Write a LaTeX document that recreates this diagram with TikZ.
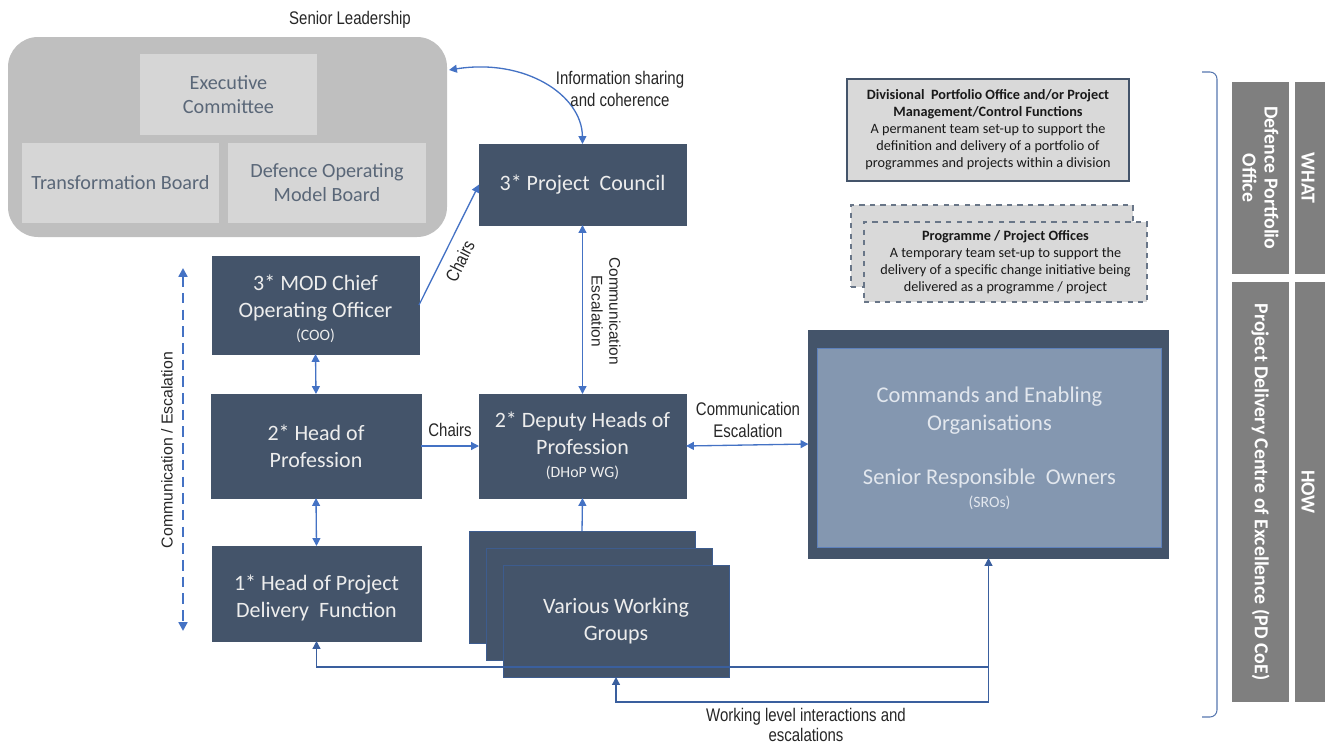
\documentclass[tikz,border=0pt]{standalone}
\usepackage{fontspec}
\setmainfont{Carlito}
\newfontfamily\narrowfont[FakeStretch=0.82]{Liberation Sans}
\newfontfamily\arialfont{Liberation Sans}
\usetikzlibrary{arrows.meta}
\definecolor{dk}{HTML}{44546A}
\definecolor{bl}{HTML}{4472C4}
\definecolor{bldk}{HTML}{3A5F9E}
\definecolor{lgray}{HTML}{BFBFBF}
\definecolor{mgray}{HTML}{D6D6D6}
\definecolor{pgray}{HTML}{D9D9D9}
\definecolor{slatetxt}{HTML}{5A6778}
\definecolor{colgray}{HTML}{7F7F7F}
\definecolor{cmdin}{HTML}{8497B0}
\definecolor{cmdtxt}{HTML}{E2E7EE}
\definecolor{boxtxt}{HTML}{EDEDED}
\begin{document}
\begin{tikzpicture}[x=0.02cm,y=-0.02cm,
  wh/.style 2 args={minimum width=#1*0.02cm, minimum height=#2*0.02cm, inner sep=0pt, outer sep=0pt},
  dkbox/.style={fill=dk, draw=dk, text=boxtxt, align=center, font=\fontsize{12.5}{15.5}\selectfont},
  grbox/.style={fill=mgray, draw=none, text=slatetxt, align=center, font=\fontsize{11.5}{13.6}\selectfont},
  infobox/.style={fill=pgray, draw=dk, line width=0.6pt, align=center, text=black!90, font=\fontsize{8.1}{9.7}\selectfont},
  progbox/.style={fill=pgray, draw=dk!80, dashed, line width=0.6pt, align=center, text=black!90, font=\fontsize{8.1}{9.7}\selectfont},
  colbox/.style={fill=colgray, draw=none, text=white, align=center, font=\bfseries\fontsize{11.3}{12.5}\selectfont},
  lbl/.style={font=\narrowfont\fontsize{10.4}{12.2}\selectfont, text=black!85, align=center, inner sep=1pt},
  albl/.style={font=\arialfont\fontsize{8.8}{10.2}\selectfont, text=black!85, align=center, inner sep=1pt},
  arr/.style={draw=bl, line width=0.75pt, {Triangle[length=4.5pt,width=4.5pt]}-{Triangle[length=4.5pt,width=4.5pt]}},
  arrto/.style={draw=bl, line width=0.75pt, -{Triangle[length=4.5pt,width=4.5pt]}},
  arrdk/.style={draw=bldk, line width=0.75pt, -{Triangle[length=4.5pt,width=4.5pt]}},
  dasharr/.style={draw=bl, line width=1.5pt, dash pattern=on 6pt off 3.5pt, {Triangle[length=5pt,width=5pt]}-{Triangle[length=5pt,width=5pt]}}
]
\useasboundingbox (0,0) rectangle (1325,744);

% Senior leadership group
\node[lbl] (sltitle) at (350,20) {Senior Leadership};
\node[wh={439}{200}, fill=lgray, rounded corners=0.6cm] (slbox) at (227.5,137) {};
\node[grbox, wh={177}{81}] (exec) at (228.5,94.5) {Executive\\Committee};
\node[grbox, wh={197}{80}] (tb) at (120.5,183) {Transformation Board};
\node[grbox, wh={198}{80}] (dom) at (327,183) {Defence Operating\\Model Board};

% Dark boxes
\node[dkbox, wh={207}{81}] (pc) at (582.5,184.5) {3* Project\ \ Council};
\node[dkbox, wh={207}{98}] (coo) at (315.5,305) {\rule{0pt}{13pt}3* MOD Chief\\Operating Officer\\[-2.5pt]{\fontsize{9}{10}\selectfont (COO)}};
\node[dkbox, wh={210}{104}] (hop) at (316,446) {2* Head of\\Profession};
\node[dkbox, wh={207}{104}] (dhop) at (582.5,446) {2* Deputy Heads of\\Profession\\[-2.5pt]{\fontsize{9}{10}\selectfont (DHoP WG)}};
\node[dkbox, wh={209}{95}] (hpd) at (316.5,593.5) {\rule{0pt}{14pt}1* Head of Project\\Delivery\ \ Function};
\node[dkbox, wh={226}{112}, draw=bldk!70!dk] (wga) at (582,587) {};
\node[dkbox, wh={226}{112}, draw=bldk!70!dk] (wgb) at (599,604) {};
\node[dkbox, wh={226}{112}, draw=bldk!70!dk] (wgc) at (616,621) {Various Working\\Groups};

% Commands box
\node[wh={360}{228}, fill=dk, draw=dk] (cmd) at (988.5,444) {};
\node[wh={344}{199}, fill=cmdin, draw=bl!60!cmdin, text=cmdtxt, align=center, font=\fontsize{12.8}{15.9}\selectfont] (cmdin) at (989.5,448) {Commands and Enabling\\Organisations\\[15pt]Senior Responsible\ \ Owners\\[-3pt]{\fontsize{9}{10}\selectfont (SROs)}};

% Right info boxes
\node[infobox, wh={282}{102}] (div) at (988,130) {{\bfseries Divisional\ \ Portfolio Office and/or Project}\\{\bfseries Management/Control Functions}\\A permanent team set-up to support the\\definition and delivery of a portfolio of\\programmes and projects within a division};
\node[progbox, wh={282}{82}] (proga) at (992,246) {};
\node[progbox, wh={283}{80}] (progb) at (1005.5,262) {{\bfseries Programme / Project Offices}\\A temporary team set-up to support the\\delivery of a specific change initiative being\\delivered as a programme / project};

% Right columns
\node[colbox, wh={57}{192}] (dpo) at (1260.5,178) {};
\node[colbox, rotate=-90] (dpot) at (dpo.center) {Defence Portfolio\\Office};
\node[colbox, wh={57}{420}] (pdc) at (1260.5,492) {};
\node[colbox, rotate=-90] (pdct) at (pdc.center) {Project Delivery Centre of Excellence (PD CoE)};
\node[colbox, wh={30}{192}] (what) at (1310,178) {};
\node[colbox, rotate=-90] (whatt) at (1308,178) {WHAT};
\node[colbox, wh={30}{420}] (how) at (1310,492) {};
\node[colbox, rotate=-90] (howt) at (1308,492) {HOW};

% Bracket
\coordinate (brt) at (1202,72);
\coordinate (brb) at (1202,717);
\draw[draw=bl!70!gray, line width=0.6pt, rounded corners=4pt] (brt) -- (1217,72) -- (1217,717) -- (brb);

% Connectors
\coordinate (infoA) at (449,70);
\draw[arr] (infoA) .. controls (525,58) and (582,95) .. (pc.north);
\node[lbl] (infolbl) at (620,89) {Information sharing\\and coherence};

\draw[arrto] (coo.east) -- (pc.west);
\node[lbl, rotate=63.5] (chairs1) at (460,261) {Chairs};
\draw[arr] (coo.south) -- (hop.north);
\draw[arr] (hop.south) -- (hpd.north);
\draw[arrto] (hop.east) -- (dhop.west) node[midway, above, lbl, yshift=4pt] {Chairs};
\draw[arr] (pc.south) -- (dhop.north);
\node[albl, rotate=-90] (pclbl) at (606,311) {Communication\\Escalation};
\draw[arr] (dhop.east) -- (cmd.west);
\node[lbl] (cmdlbl) at (748,420) {Communication\\Escalation};
\draw[arrto] (wga.north) -- (dhop.south);

\coordinate (jr) at (988.5,667);
\coordinate (jb) at (988.5,702);
\draw[arrdk] (jr) -- (hpd.south |- jr) -- (hpd.south);
\draw[arrdk] (jb) -- (cmd.south);
\draw[arrdk] (jb) -- (wgc.south |- jb) -- (wgc.south);
\node[lbl, font=\narrowfont\fontsize{10.4}{11.3}\selectfont] (wll) at (806,725) {Working level interactions and\\escalations};

% Left dashed arrow
\coordinate (dt) at (183,268);
\coordinate (db) at (183,631);
\draw[dasharr] (dt) -- (db);
\node[albl, rotate=90, font=\arialfont\fontsize{9}{10.5}\selectfont] (celbl) at (167,450) {Communication / Escalation};
\end{tikzpicture}
\end{document}
